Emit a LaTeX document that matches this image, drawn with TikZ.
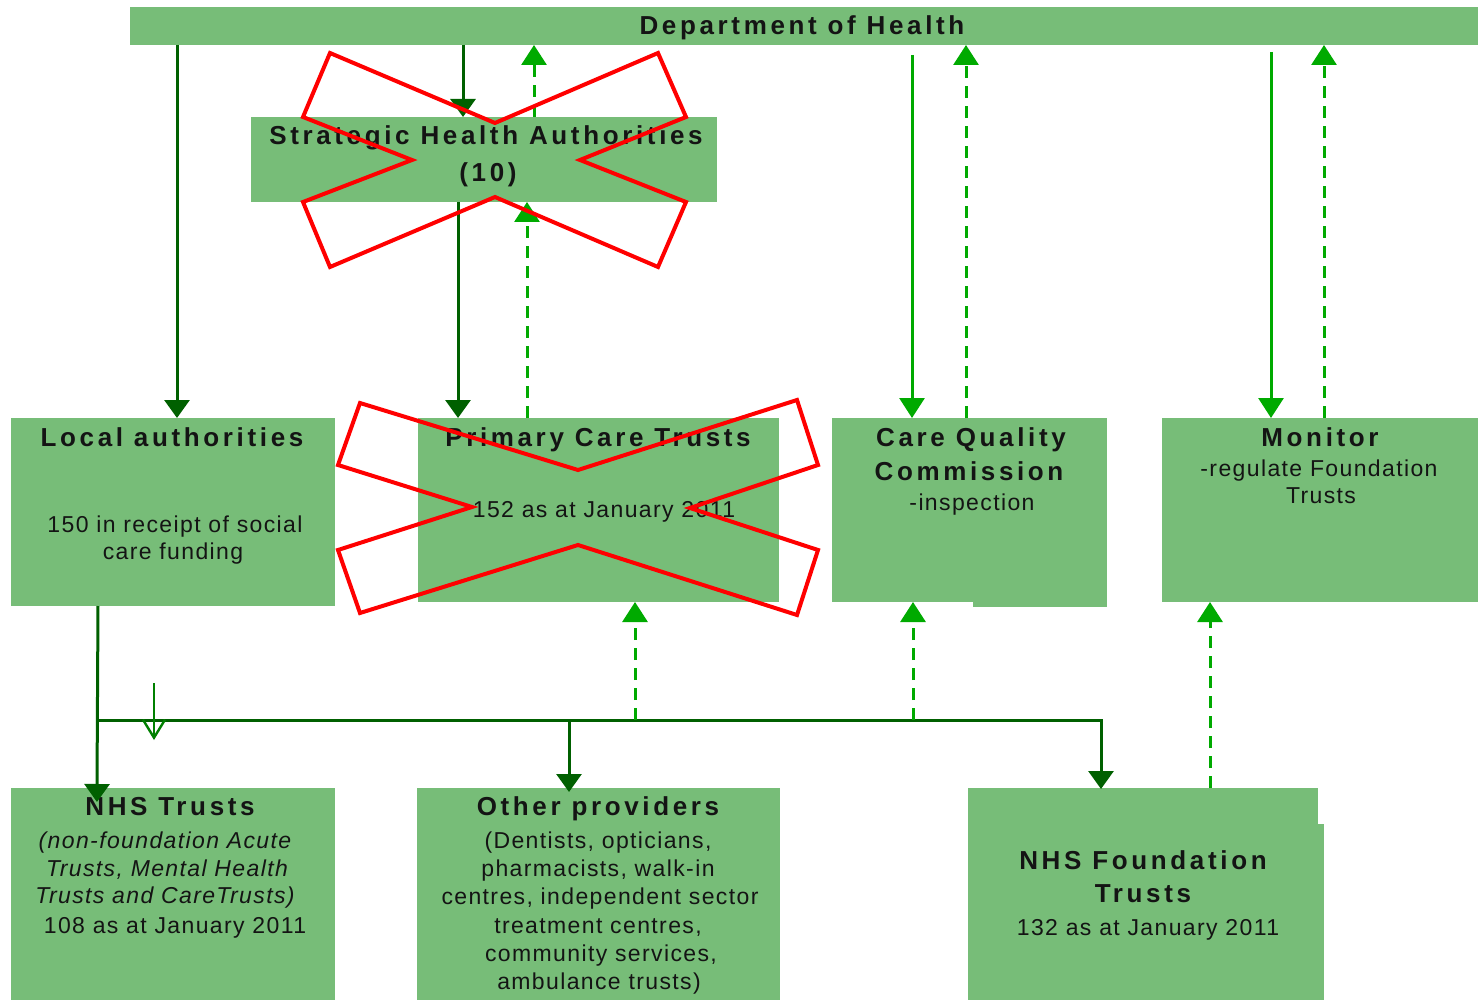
\documentclass[tikz,border=0pt]{standalone}
\usepackage{fontspec}
\setmainfont{Liberation Sans}
\newfontfamily\tfont{Liberation Sans}[LetterSpace=14]
\newfontfamily\rfont{Liberation Sans}[LetterSpace=6]
\usetikzlibrary{arrows.meta,fit}
\definecolor{boxgreen}{RGB}{119,189,120}
\definecolor{dkgreen}{RGB}{0,96,0}
\definecolor{brgreen}{RGB}{0,170,0}
\definecolor{opgreen}{RGB}{0,128,0}
\definecolor{ink}{RGB}{20,20,20}
\begin{document}
\begin{tikzpicture}[x=0.5pt,y=-0.5pt,
 box/.style={fill=boxgreen, draw=none, inner sep=0pt, outer sep=0pt},
 ttl/.style={font=\tfont\bfseries\fontsize{13}{15}\selectfont, text=ink, anchor=base, yshift=-4.7pt, inner sep=0pt},
 txt/.style={font=\rfont\fontsize{11.5}{13}\selectfont, text=ink, anchor=base, yshift=-4pt, inner sep=0pt},
 itx/.style={txt, font=\rfont\itshape\fontsize{11.5}{13}\selectfont},
 darr/.style={draw=dkgreen, line width=1.5pt, -{Triangle[width=12.5pt,length=9pt]}},
 dline/.style={draw=dkgreen, line width=1.5pt},
 garr/.style={draw=brgreen, line width=1.5pt, -{Triangle[width=12.5pt,length=10pt]}},
 gdash/.style={garr, dash pattern=on 6pt off 4pt},
 openarr/.style={draw=opgreen, line width=1.2pt, -{Straight Barb[width=11pt,length=9pt]}},
 xmark/.style={draw=red, line width=2pt, line join=miter}]
\useasboundingbox (0,0) rectangle (1478,1000);

% boxes
\node[box, fit={(130,7) (1478,45)}] (dh) {};
\node[box, fit={(251,117) (717,202)}] (sha) {};
\node[box, fit={(11,418) (335,606)}] (la) {};
\node[box, fit={(418,418) (779,602)}] (pct) {};
\node[box, fit={(832,418) (1107,602)}] (cqc) {};
\fill[boxgreen] (973,600) rectangle (1107,607);
\node[box, fit={(1162,418) (1478,602)}] (mon) {};
\node[box, fit={(11,788) (335,1000)}] (nt) {};
\node[box, fit={(417,788) (780,1000)}] (op) {};
\node[box, fit={(968,788) (1318,1000)}] (nft) {};
\fill[boxgreen] (1316,824) rectangle (1324,1000);

% texts
\node[ttl] (t-dh) at (802,25) {Department of Health};
\node[ttl] (t-sha1) at (486,135) {Strategic Health Authorities};
\node[ttl] (t-sha2) at (488,172) {(10)};
\node[ttl] (t-la1) at (172,437) {Local authorities};
\node[txt] (t-la2) at (175,524) {150 in receipt of social};
\node[txt] (t-la3) at (173,551) {care funding};
\node[ttl] (t-pct1) at (598,437) {Primary Care Trusts};
\node[txt] (t-pct2) at (604,509) {152 as at January 2011};
\node[ttl] (t-cqc1) at (971,437) {Care Quality};
\node[ttl] (t-cqc2) at (969,471) {Commission};
\node[txt] (t-cqc3) at (972,502) {-inspection};
\node[ttl] (t-mon1) at (1320,437) {Monitor};
\node[txt] (t-mon2) at (1319,468) {-regulate Foundation};
\node[txt] (t-mon3) at (1321,495) {Trusts};
\node[ttl] (t-nt1) at (170,806) {NHS Trusts};
\node[itx] (t-nt2) at (165,840) {(non-foundation Acute};
\node[itx] (t-nt3) at (167,868) {Trusts, Mental Health};
\node[itx] (t-nt4) at (165,895) {Trusts and CareTrusts)};
\node[txt] (t-nt5) at (175,925) {108 as at January 2011};
\node[ttl] (t-op1) at (598,806) {Other providers};
\node[txt] (t-op2) at (598,840) {(Dentists, opticians,};
\node[txt] (t-op3) at (598,868) {pharmacists, walk-in};
\node[txt] (t-op4) at (600,896) {centres, independent sector};
\node[txt] (t-op5) at (598,925) {treatment centres,};
\node[txt] (t-op6) at (601,953) {community services,};
\node[txt] (t-op7) at (599,981) {ambulance trusts)};
\node[ttl] (t-nft1) at (1143,860) {NHS Foundation};
\node[ttl] (t-nft2) at (1143,893) {Trusts};
\node[txt] (t-nft3) at (1148,927) {132 as at January 2011};

% connectors top
\draw[darr] (dh.south -| 177,0) -- (la.north -| 177,0);
\draw[darr] (dh.south -| 463,0) -- (sha.north -| 463,0);
\draw[gdash] (sha.north -| 534,0) -- (dh.south -| 534,0);
\draw[darr] (sha.south -| 458,0) -- (pct.north -| 458,0);
\draw[gdash] (pct.north -| 527,0) -- (sha.south -| 527,0);
\draw[garr, shorten <=5pt] (dh.south -| 912,0) -- (cqc.north -| 912,0);
\draw[gdash] (cqc.north -| 966,0) -- (dh.south -| 966,0);
\draw[garr, shorten <=3.5pt] (dh.south -| 1271,0) -- (mon.north -| 1271,0);
\draw[gdash] (mon.north -| 1324,0) -- (dh.south -| 1324,0);

% connectors bottom
\coordinate (j1) at (98,720);
\draw[darr, shorten >=-7pt] (la.south -| 98,0) -- (nt.north -| 97,0);
\draw[darr, shorten >=-0.5pt] (j1) -| (nft.north -| 1101,0);
\draw[darr, shorten >=-2pt] (j1 -| 569,0) -- (op.north -| 569,0);
\draw[gdash] (j1 -| 635,0) -- (pct.south -| 635,0);
\draw[gdash] (j1 -| 913,0) -- (cqc.south -| 913,0);
\draw[gdash] (nft.north -| 1210,0) -- (mon.south -| 1210,0);
\coordinate (oa1) at (154,683);
\coordinate (oa2) at (154,740);
\draw[openarr] (oa1) -- (oa2);

% red crosses
\draw[xmark] (330,53) -- (495,123) -- (658,53) -- (686,117) -- (580,160) -- (686,202) -- (658,267) -- (495,197) -- (330,267) -- (303,202) -- (412,160) -- (303,117) -- cycle;
\draw[xmark] (360,403) -- (578,470) -- (797,400) -- (818,465) -- (690,508) -- (818,550) -- (797,615) -- (578,545) -- (360,613) -- (338,550) -- (472,507) -- (338,465) -- cycle;
\end{tikzpicture}
\end{document}
